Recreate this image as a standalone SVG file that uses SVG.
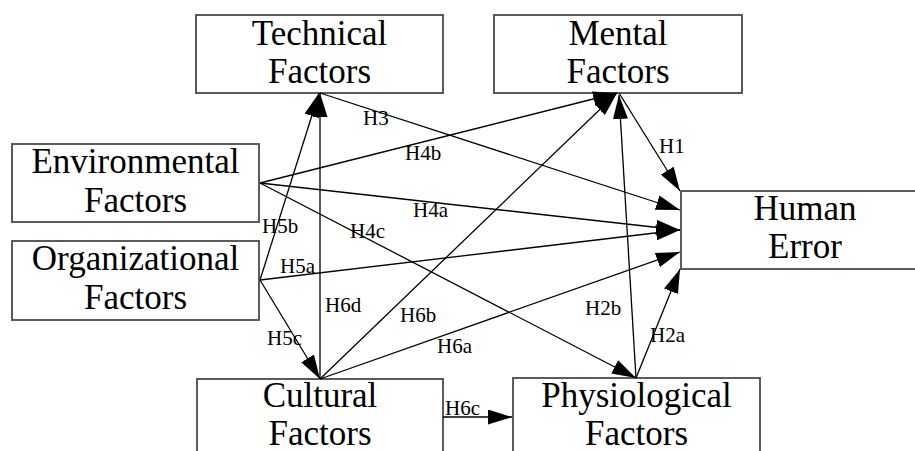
<svg xmlns="http://www.w3.org/2000/svg" width="915" height="451" viewBox="0 0 915 451">
<style>
.box{fill:#fff;stroke:#4a4a4a;stroke-width:1.8}
.nt{font-family:"Liberation Serif",serif;font-size:35px;fill:#000;text-anchor:middle}
.lb{font-family:"Liberation Serif",serif;font-size:21px;fill:#000}
.cn{stroke:#000;stroke-width:1.3;fill:none;marker-end:url(#ah)}
</style>
<defs>
<marker id="ah" markerUnits="userSpaceOnUse" markerWidth="24" markerHeight="15" refX="24" refY="7.5" orient="auto">
<path d="M0,0 L24,7.5 L0,15 Z" fill="#000"/>
</marker>
</defs>
<rect width="915" height="451" fill="#fff"/>
<g id="technical"><rect class="box" x="196" y="15" width="247" height="78"/><text class="nt" x="319.5" y="45">Technical</text><text class="nt" x="319.5" y="83">Factors</text></g>
<g id="mental"><rect class="box" x="494" y="15" width="248" height="78"/><text class="nt" x="618" y="45">Mental</text><text class="nt" x="618" y="83">Factors</text></g>
<g id="environmental"><rect class="box" x="12" y="144" width="247" height="78"/><text class="nt" x="135.5" y="173">Environmental</text><text class="nt" x="135.5" y="212">Factors</text></g>
<g id="organizational"><rect class="box" x="12" y="241" width="247" height="79"/><text class="nt" x="135.5" y="270">Organizational</text><text class="nt" x="135.5" y="309">Factors</text></g>
<g id="human-error"><rect class="box" x="681" y="191" width="250" height="78"/><text class="nt" x="805" y="220">Human</text><text class="nt" x="805" y="258">Error</text></g>
<g id="cultural"><rect class="box" x="197" y="379" width="246" height="90"/><text class="nt" x="320" y="407">Cultural</text><text class="nt" x="320" y="445">Factors</text></g>
<g id="physiological"><rect class="box" x="513" y="378" width="247" height="90"/><text class="nt" x="636.5" y="407">Physiological</text><text class="nt" x="636.5" y="445">Factors</text></g>
<g id="connectors">
<line class="cn" x1="320" y1="93" x2="680" y2="210"/>
<line class="cn" x1="260" y1="183" x2="617" y2="93"/>
<line class="cn" x1="260" y1="183" x2="680" y2="230"/>
<line class="cn" x1="260" y1="183" x2="636" y2="378"/>
<line class="cn" x1="260" y1="280" x2="319" y2="93"/>
<line class="cn" x1="260" y1="280" x2="680" y2="230"/>
<line class="cn" x1="260" y1="280" x2="320" y2="379"/>
<line class="cn" x1="320" y1="379" x2="320" y2="93"/>
<line class="cn" x1="320" y1="379" x2="617" y2="93"/>
<line class="cn" x1="320" y1="379" x2="680" y2="252"/>
<line class="cn" x1="443" y1="417" x2="512" y2="417"/>
<line class="cn" x1="636" y1="378" x2="680" y2="269"/>
<line class="cn" x1="636" y1="378" x2="619" y2="95"/>
<line class="cn" x1="619" y1="93" x2="680" y2="191"/>
<text class="lb" x="363" y="125">H3</text>
<text class="lb" x="405" y="160">H4b</text>
<text class="lb" x="413" y="217">H4a</text>
<text class="lb" x="350" y="238">H4c</text>
<text class="lb" x="262" y="233">H5b</text>
<text class="lb" x="280" y="273">H5a</text>
<text class="lb" x="267" y="345">H5c</text>
<text class="lb" x="325" y="312">H6d</text>
<text class="lb" x="400" y="322">H6b</text>
<text class="lb" x="437" y="353">H6a</text>
<text class="lb" x="445" y="415">H6c</text>
<text class="lb" x="585" y="315">H2b</text>
<text class="lb" x="650" y="342">H2a</text>
<text class="lb" x="659" y="153">H1</text>
</g>
</svg>
